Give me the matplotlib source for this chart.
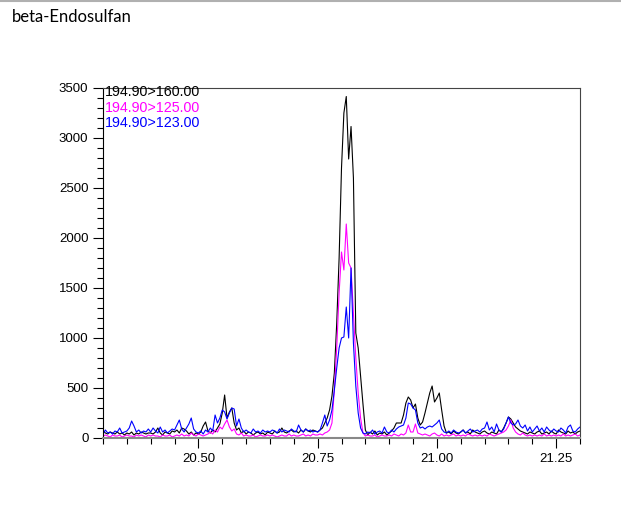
import numpy as np
import matplotlib
matplotlib.use("Agg")
import matplotlib.pyplot as plt
from matplotlib.lines import Line2D
from matplotlib.ticker import MultipleLocator

plt.rcParams['font.family'] = ['Liberation Sans', 'DejaVu Sans']

title = 'beta-Endosulfan'
# retention time axis: 20.30 .. 21.30 min, one scan every 0.005 min
rt_start, rt_step, n_scans = 20.30, 0.005, 201

trace_names = ['194.90>160.00', '194.90>125.00', '194.90>123.00']
trace_colors = ['black', '#ff00ff', '#0000ff']

int_160 = [
    70, 50, 40, 60, 50, 40, 60, 40, 50, 30,
    50, 40, 60, 30, 50, 40, 60, 50, 40, 50,
    50, 40, 60, 100, 50, 30, 60, 50, 40, 70,
    60, 80, 50, 100, 90, 70, 40, 60, 30, 50,
    40, 60, 120, 160, 70, 50, 80, 60, 100, 140,
    250, 430, 200, 260, 300, 150, 80, 100, 50, 70,
    40, 60, 50, 30, 50, 60, 40, 50, 30, 60,
    50, 40, 70, 50, 60, 100, 60, 50, 70, 80,
    60, 70, 50, 80, 60, 90, 70, 60, 80, 70,
    60, 80, 100, 150, 200, 280, 420, 650, 1150, 1800,
    2700, 3250, 3415, 2790, 3115, 2600, 1050, 900, 620, 340,
    80, 30, 60, 40, 70, 30, 50, 40, 60, 30,
    50, 70, 100, 150, 150, 150, 230, 350, 410, 380,
    300, 340, 200, 130, 160, 250, 350, 450, 520, 360,
    400, 450, 280, 120, 50, 60, 40, 70, 50, 40,
    60, 80, 50, 60, 40, 80, 60, 50, 40, 60,
    70, 50, 40, 60, 50, 40, 80, 60, 100, 150,
    210, 190, 150, 110, 90, 70, 60, 50, 40, 60,
    50, 40, 60, 70, 40, 50, 60, 40, 70, 50,
    40, 80, 60, 50, 40, 70, 50, 60, 40, 60, 70,
]

int_125 = [
    20, 30, 20, 10, 30, 20, 20, 30, 10, 20,
    30, 20, 20, 10, 30, 20, 30, 20, 10, 30,
    20, 30, 20, 20, 10, 30, 20, 20, 30, 10,
    20, 30, 20, 40, 20, 30, 20, 50, 30, 20,
    40, 30, 20, 30, 40, 60, 40, 80, 60, 110,
    90, 140, 180, 110, 70, 90, 40, 30, 50, 20,
    30, 20, 20, 30, 10, 20, 30, 20, 20, 30,
    20, 30, 20, 10, 20, 30, 20, 20, 40, 20,
    30, 20, 20, 30, 40, 20, 30, 20, 40, 30,
    30, 40, 30, 50, 60, 80, 150, 480, 900, 1450,
    1860, 1680, 2140, 1750, 1700, 1250, 800, 450, 200, 50,
    20, 30, 20, 20, 30, 10, 20, 30, 20, 20,
    30, 20, 40, 30, 20, 40, 30, 50, 130, 60,
    60, 140, 50, 40, 30, 40, 30, 20, 40, 50,
    30, 20, 40, 20, 30, 20, 30, 40, 20, 30,
    20, 30, 20, 40, 30, 20, 30, 20, 30, 20,
    30, 20, 40, 30, 20, 30, 40, 50, 60, 80,
    120, 180, 100, 60, 40, 30, 50, 30, 20, 30,
    20, 30, 20, 30, 20, 40, 20, 30, 20, 30,
    20, 30, 20, 40, 20, 30, 20, 30, 40, 20, 30,
]

int_123 = [
    40, 80, 50, 60, 40, 70, 60, 100, 50, 60,
    70, 100, 170, 120, 60, 80, 50, 70, 60, 90,
    60, 100, 70, 50, 110, 60, 80, 50, 70, 90,
    80, 130, 180, 90, 60, 100, 140, 200, 90, 60,
    50, 70, 40, 80, 60, 100, 70, 230, 150, 200,
    280, 260, 190, 250, 300, 290, 120, 190, 100, 60,
    80, 60, 50, 90, 60, 70, 50, 80, 60, 70,
    60, 80, 70, 50, 90, 60, 80, 70, 60, 90,
    70, 60, 130, 80, 60, 90, 70, 80, 60, 70,
    60, 80, 150, 230, 120, 180, 280, 480, 700, 900,
    1000, 1010, 1310, 1000, 1700, 950, 520, 250, 100, 50,
    40, 60, 50, 80, 40, 60, 70, 50, 110, 60,
    50, 80, 60, 90, 110, 120, 130, 200, 350, 340,
    300, 280, 150, 100, 110, 90, 110, 120, 110, 130,
    150, 180, 90, 60, 50, 70, 50, 80, 60, 50,
    60, 80, 50, 70, 90, 60, 70, 80, 60, 90,
    100, 160, 80, 110, 60, 140, 80, 60, 90, 150,
    210, 150, 130, 140, 180, 120, 100, 130, 70, 110,
    60, 90, 120, 70, 100, 60, 110, 80, 60, 90,
    70, 60, 100, 80, 50, 110, 130, 70, 60, 90, 110,
]

rt = rt_start + rt_step * np.arange(n_scans)

fig = plt.figure(figsize=(6.21, 5.18), dpi=100)
ax = fig.add_axes([103/621, 1-438/518, 477/621, 350/518])

for y, c in zip([int_160, int_125, int_123], trace_colors):
    ax.plot(rt, y, color=c, lw=0.8)

ax.set_xlim(20.30, 21.30)
ax.set_ylim(0, 3500)
ax.xaxis.set_major_locator(MultipleLocator(0.25))
ax.xaxis.set_minor_locator(MultipleLocator(0.05))
ax.yaxis.set_major_locator(MultipleLocator(500))
ax.yaxis.set_minor_locator(MultipleLocator(100))
ax.xaxis.set_major_formatter(matplotlib.ticker.FormatStrFormatter('%.2f'))
ax.tick_params(which='major', length=7, width=0.8, labelsize=9.5, direction='out')
ax.tick_params(which='minor', length=4, width=0.8, direction='out')
ax.tick_params(top=False, right=False)

for s in ['top', 'right']:
    ax.spines[s].set_color('#444444')
    ax.spines[s].set_linewidth(0.8)
ax.spines['left'].set_color('black')
ax.spines['bottom'].set_color('#888888')
ax.spines['bottom'].set_linewidth(1.5)

y0 = (438 - 92.5) / 350
for k, (name, c) in enumerate(zip(trace_names, trace_colors)):
    ax.text(0.003, y0 - k * 15.2 / 350, name, color=c, fontsize=10.3,
            transform=ax.transAxes, ha='left', va='center')

fig.text(12/621, 1-17/518, title, fontsize=12, family=['Lato', 'DejaVu Sans'],
         ha='left', va='center')
fig.add_artist(Line2D([0, 1], [1-1/518, 1-1/518], color='#b0b0b0', lw=1.5,
                      transform=fig.transFigure))

fig.savefig('out.png', dpi=100)
